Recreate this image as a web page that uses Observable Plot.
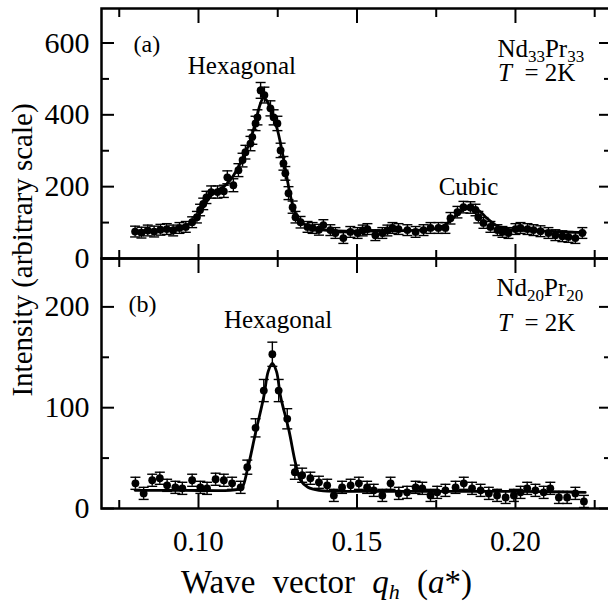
<!DOCTYPE html>
<html><head><meta charset="utf-8">
<script src="https://cdn.jsdelivr.net/npm/d3@7"></script>
<script src="https://cdn.jsdelivr.net/npm/@observablehq/plot@0.6"></script>
<style>
html,body{margin:0;padding:0;background:#fff;overflow:hidden;}
#wrap{position:relative;width:608px;height:602px;overflow:hidden;background:#fff;}
#wrap svg{position:absolute;left:0;max-width:none;}
#ylab{position:absolute;left:22px;top:250px;transform:translate(-50%,-50%) rotate(-90deg);font-family:"Liberation Serif",serif;font-size:29px;line-height:1;white-space:nowrap;color:#000;}
</style></head><body><div id="wrap"><div id="ylab">Intensity (arbitrary scale)</div></div>
<script>
// ---- Panel (a): Nd33Pr33 data ----
const topQ = [0.0800,0.0820,0.0840,0.0860,0.0880,0.0900,0.0920,0.0940,0.0960,0.0980,0.0995,0.1005,0.1015,0.1025,0.1040,0.1060,0.1080,0.1091,0.1110,0.1126,0.1139,0.1148,0.1164,0.1170,0.1180,0.1186,0.1196,0.1208,0.1227,0.1237,0.1249,0.1259,0.1268,0.1274,0.1284,0.1297,0.1306,0.1322,0.1344,0.1360,0.1380,0.1394,0.1416,0.1432,0.1457,0.1479,0.1502,0.1518,0.1533,0.1558,0.1580,0.1596,0.1612,0.1631,0.1659,0.1685,0.1710,0.1732,0.1757,0.1779,0.1795,0.1817,0.1836,0.1858,0.1874,0.1883,0.1899,0.1921,0.1943,0.1959,0.1978,0.2000,0.2016,0.2038,0.2057,0.2079,0.2104,0.2126,0.2148,0.2167,0.2189,0.2211];
const topI = [75,72,78,75,80,82,78,85,88,101,115,135,152,170,185,185,187,226,204,246,274,296,320,338,376,393,468,455,418,393,376,301,265,237,182,143,115,101,88,85,80,93,79,71,57,74,71,78,82,65,71,78,85,82,79,74,79,85,85,85,112,129,143,142,135,115,99,88,79,74,71,82,85,82,79,76,71,65,62,60,57,71];
const topErr = [15,15,15,15,15,15,15,15,15,15,16,16,16,17,17,17,17,18,18,18,19,19,20,20,20,21,22,22,21,21,20,20,19,19,18,17,16,16,15,15,15,15,15,15,15,15,15,15,15,15,15,15,15,15,15,15,15,15,15,15,16,16,16,16,16,16,15,15,15,15,15,15,15,15,15,15,15,15,15,15,15,15];
const topFitQ = [0.080,0.085,0.090,0.095,0.098,0.100,0.102,0.104,0.106,0.108,0.110,0.112,0.114,0.116,0.118,0.1195,0.1205,0.1215,0.123,0.124,0.125,0.126,0.127,0.128,0.129,0.130,0.131,0.132,0.134,0.136,0.140,0.150,0.160,0.170,0.175,0.178,0.181,0.1835,0.186,0.1885,0.191,0.194,0.197,0.200,0.210,0.222];
const topFitI = [76,78,82,90,100,120,150,175,190,200,218,245,280,320,380,430,447,440,410,385,355,315,270,220,175,140,118,105,92,85,79,76,77,79,84,95,118,135,140,133,112,92,82,79,76,72];

// ---- Panel (b): Nd20Pr20 data ----
const botQ = [0.0801,0.0827,0.0854,0.0878,0.0901,0.0927,0.0949,0.0980,0.1006,0.1027,0.1054,0.1080,0.1106,0.1133,0.1154,0.1180,0.1206,0.1233,0.1253,0.1280,0.1304,0.1327,0.1353,0.1380,0.1406,0.1427,0.1453,0.1480,0.1506,0.1532,0.1553,0.1580,0.1606,0.1632,0.1658,0.1685,0.1706,0.1732,0.1753,0.1779,0.1811,0.1837,0.1863,0.1890,0.1916,0.1942,0.1969,0.1995,0.2016,0.2037,0.2063,0.2089,0.2110,0.2137,0.2163,0.2189,0.2216];
const botI = [25,15,28,30,23,21,20,28,21,20,29,28,25,21,41,80,117,153,117,89,36,33,30,26,23,13,21,23,25,21,18,13,25,15,16,21,20,13,16,18,21,25,20,18,15,13,11,13,16,20,18,16,20,11,11,15,7];
const botErr = [6,6,6,6,6,6,6,6,6,6,6,6,6,6,7,9,11,12,11,10,7,7,6,6,6,6,6,6,6,6,6,6,6,6,6,6,6,6,6,6,6,6,6,6,6,6,6,6,6,6,6,6,6,6,6,6,6];
const botFitQ = [0.080,0.095,0.110,0.1125,0.1138,0.1154,0.118,0.1206,0.1220,0.1233,0.1246,0.1259,0.1285,0.1306,0.1322,0.1345,0.138,0.160,0.200,0.222];
const botFitI = [18,18,18,19,21,38,75,111,136,144,136,111,78,45,28,21,18,17,17,16];

// ---- Axes ----
const xDomain = [0.0694, 0.2303];
const xMajor = [0.10, 0.15, 0.20];
const xMinor = [0.075, 0.125, 0.175, 0.225];
const xLabels = [0.10, 0.15, 0.20];
const topYMajor = [0, 200, 400, 600];
const topYMinor = [100, 300, 500];
const botYMajor = [0, 100, 200];
const botYMinor = [50, 150];

const FONT = "'Liberation Serif', 'Times New Roman', serif";
const capSym = {draw(ctx, size){ const w = Math.sqrt(size/Math.PI); ctx.moveTo(-w,0); ctx.lineTo(w,0); }};

function tickMarks(yMajor, yMinor) {
  const common = {fill: "none", stroke: "black", strokeWidth: 2};
  return [
    Plot.axisY({...common, anchor: "left", ticks: yMajor, tickSize: -13}),
    Plot.axisY({...common, anchor: "left", ticks: yMinor, tickSize: -8}),
    Plot.axisY({...common, anchor: "right", ticks: yMajor, tickSize: -13}),
    Plot.axisY({...common, anchor: "right", ticks: yMinor, tickSize: -8}),
    Plot.axisX({...common, anchor: "top", ticks: xMajor, tickSize: -14}),
    Plot.axisX({...common, anchor: "top", ticks: xMinor, tickSize: -8}),
    Plot.axisX({...common, anchor: "bottom", ticks: xMajor, tickSize: -14}),
    Plot.axisX({...common, anchor: "bottom", ticks: xMinor, tickSize: -8})
  ];
}

function panel(o) {
  const pts = o.q.map((q, i) => ({q, v: o.v[i], lo: o.v[i] - o.e[i], hi: o.v[i] + o.e[i]}));
  const fit = o.fq.map((q, i) => ({q, v: o.fv[i]}));
  return Plot.plot({
    width: 608, height: o.height,
    marginLeft: 101, marginRight: -3, marginTop: o.mt, marginBottom: o.mb,
    x: {domain: xDomain},
    y: {domain: o.yDomain},
    style: {fontFamily: FONT, fontSize: "29px", background: o.bg, overflow: "visible", color: "black"},
    marks: [
      Plot.ruleX(pts, {x: "q", y1: "lo", y2: "hi", stroke: "black", strokeWidth: 1.4}),
      Plot.dot(pts, {x: "q", y: "hi", r: 5, symbol: capSym, fill: "none", stroke: "black", strokeWidth: 1.4}),
      Plot.dot(pts, {x: "q", y: "lo", r: 5, symbol: capSym, fill: "none", stroke: "black", strokeWidth: 1.4}),
      Plot.line(fit, {x: "q", y: "v", curve: "catmull-rom", stroke: "black", strokeWidth: 2.8}),
      Plot.dot(pts, {x: "q", y: "v", r: 3.9, fill: "black"}),
      ...tickMarks(o.yMajor, o.yMinor),
      Plot.axisY({anchor: "left", ticks: o.yMajor, tickSize: 0, tickPadding: 12, fontSize: 30, label: null, tickFormat: d3.format("d")}),
      ...(o.xlab ? [
        Plot.axisX({anchor: "bottom", ticks: xLabels, tickSize: 0, tickPadding: 22, fontSize: 29, label: null, tickFormat: d3.format(".2f")}),
        Plot.text(["XLABEL"], {x: 0.1404, frameAnchor: "bottom", dy: 84, lineAnchor: "bottom", textAnchor: "middle", fontSize: 33, text: d => d})
      ] : []),
      Plot.frame({stroke: "black", strokeWidth: 2.5}),
      ...o.texts
    ]
  });
}

const T = (s, x, y, anchor, size) => Plot.text([s], {x, y, text: d => d, textAnchor: anchor, lineAnchor: "bottom", fontSize: size});

const topSvg = panel({
  q: topQ, v: topI, e: topErr, fq: topFitQ, fv: topFitI,
  yDomain: [0, 696], height: 259, mt: 8, mb: 1, bg: "transparent",
  yMajor: topYMajor, yMinor: topYMinor,
  texts: [
    T("(a)", 0.0795, 574, "start", 24),
    T("Hexagonal", 0.1137, 513, "middle", 25),
    T("NDA", 0.1943, 561, "start", 25),
    T("T  = 2K", 0.1945, 493, "start", 25),
    T("Cubic", 0.1852, 176, "middle", 25)
  ]
});
const botSvg = panel({
  q: botQ, v: botI, e: botErr, fq: botFitQ, fv: botFitI,
  yDomain: [0, 248], height: 344, mt: 0, mb: 94, bg: "white", xlab: true,
  yMajor: botYMajor, yMinor: botYMinor,
  texts: [
    T("(b)", 0.0779, 195, "start", 24),
    T("Hexagonal", 0.1251, 179, "middle", 25),
    T("NDB", 0.1940, 211, "start", 25),
    T("T  = 2K", 0.1945, 176, "start", 25)
  ]
});

function fixTexts(svg) {
  d3.select(svg).selectAll("text").each(function() {
    const t = this.textContent;
    if (t === "NDA") this.innerHTML = 'Nd<tspan dy="5" font-size="17">33</tspan><tspan dy="-5">Pr</tspan><tspan dy="5" font-size="17">33</tspan>';
    else if (t === "NDB") this.innerHTML = 'Nd<tspan dy="5" font-size="17">20</tspan><tspan dy="-5">Pr</tspan><tspan dy="5" font-size="17">20</tspan>';
    else if (t === "T  = 2K") this.innerHTML = '<tspan font-style="italic">T</tspan>  = 2K';
    else if (t === "XLABEL") {
      this.innerHTML = 'Wave vector <tspan font-style="italic">q</tspan><tspan font-style="italic" font-size="22" dy="6">h</tspan><tspan dy="-6"> (</tspan><tspan font-style="italic">a</tspan>*)';
      this.setAttribute("style", "word-spacing:9px");
    }
  });
}
fixTexts(topSvg); fixTexts(botSvg);

const wrap = document.getElementById("wrap");
botSvg.style.top = "258px";
topSvg.style.top = "0px";
wrap.insertBefore(botSvg, wrap.firstChild);
wrap.insertBefore(topSvg, document.getElementById("ylab"));
</script>
</body></html>
